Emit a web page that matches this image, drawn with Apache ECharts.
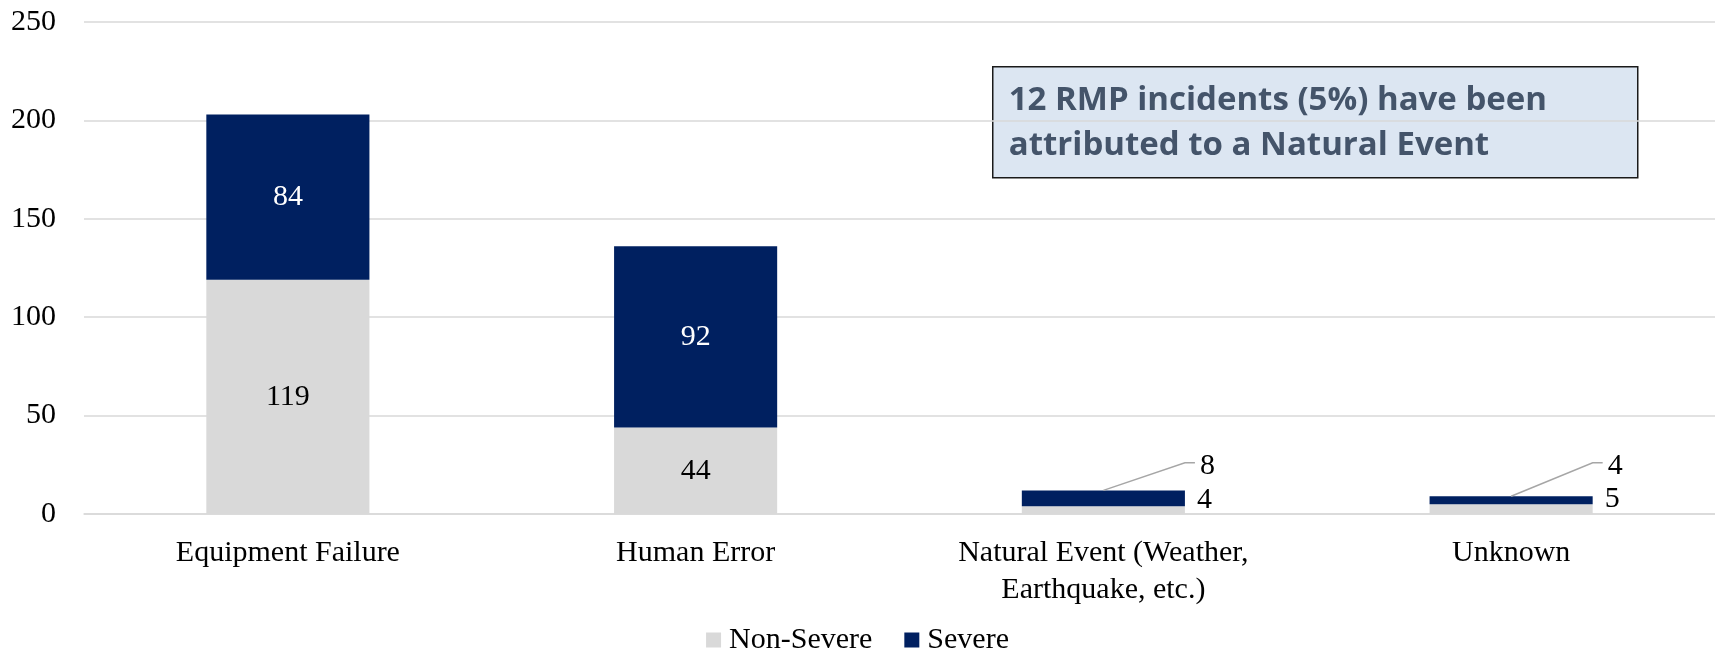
<!DOCTYPE html>
<html>
<head>
<meta charset="utf-8">
<script src="https://cdn.jsdelivr.net/npm/echarts@6/dist/echarts.min.js"></script>
<style>
  html, body { margin: 0; padding: 0; background: #fff; }
  #chart { width: 1715px; height: 654px; }
</style>
</head>
<body>
<div id="chart"></div>
<script>
// data
const categories = ['Equipment Failure', 'Human Error', 'Natural Event (Weather,\nEarthquake, etc.)', 'Unknown'];
const nonSevere = [119, 44, 4, 5];
const severe = [84, 92, 8, 4];
const yTicks = [0, 50, 100, 150, 200, 250];

const serif = '"Liberation Serif", "Times New Roman", serif';
const grey = '#d9d9d9';
const navy = '#002060';
const smallCutoff = 10; // values below this get an outside label
const calloutLevel = 26; // y value where the callout elbow sits

const chart = echarts.init(document.getElementById('chart'));

const nonSevereData = nonSevere.map((v) => {
  if (v >= smallCutoff) return v;
  return {
    value: v,
    label: { position: 'right', distance: 12, offset: [0, -10] },
  };
});

const severeData = severe.map((v) => {
  if (v >= smallCutoff) return v;
  return { value: v, label: { show: false } };
});

// callouts for the thin severe segments
const calloutData = [];
for (let i = 0; i < categories.length; i++) {
  if (severe[i] < smallCutoff) {
    calloutData.push([i, nonSevere[i] + severe[i], severe[i]]);
  }
}

const option = {
  animation: false,
  grid: { left: 84, right: 0, top: 22, bottom: 140 },
  legend: {
    data: ['Non-Severe', 'Severe'],
    top: 620,
    icon: 'rect',
    itemWidth: 15,
    itemHeight: 15,
    itemGap: 32,
    textStyle: { fontFamily: serif, fontSize: 30, color: '#000', padding: [0, 0, 0, 3] },
  },
  xAxis: {
    type: 'category',
    data: categories,
    axisTick: { show: false },
    axisLine: { lineStyle: { color: grey, width: 1.5 } },
    axisLabel: {
      fontFamily: serif,
      fontSize: 30,
      color: '#000',
      margin: 21,
      lineHeight: 37,
      interval: 0,
    },
  },
  yAxis: {
    type: 'value',
    min: yTicks[0],
    max: yTicks[yTicks.length - 1],
    interval: 50,
    axisLine: { show: false },
    axisTick: { show: false },
    splitLine: { lineStyle: { color: grey, width: 1.5 } },
    axisLabel: { fontFamily: serif, fontSize: 30, color: '#000', margin: 28 },
  },
  series: [
    {
      name: 'Non-Severe',
      type: 'bar',
      stack: 'total',
      barWidth: '40%',
      data: nonSevereData,
      itemStyle: { color: grey },
      label: {
        show: true,
        position: 'inside',
        fontFamily: serif,
        fontSize: 30,
        color: '#000',
      },
    },
    {
      name: 'Severe',
      type: 'bar',
      stack: 'total',
      barWidth: '40%',
      data: severeData,
      itemStyle: { color: navy },
      label: {
        show: true,
        position: 'inside',
        fontFamily: serif,
        fontSize: 30,
        color: '#fff',
      },
    },
    {
      name: 'callout',
      type: 'custom',
      z: 5,
      silent: true,
      data: calloutData,
      encode: { x: 0, y: 1 },
      renderItem: function (params, api) {
        const top = api.coord([api.value(0), api.value(1)]);
        const catWidth = api.size([1, 0])[0];
        const x1 = top[0] + catWidth * 0.2;
        const elbowY = api.coord([api.value(0), calloutLevel])[1];
        return {
          type: 'group',
          children: [
            {
              type: 'polyline',
              shape: { points: [[top[0], top[1]], [x1, elbowY], [x1 + 10, elbowY]] },
              style: { stroke: '#a6a6a6', lineWidth: 1.5, fill: null },
            },
            {
              type: 'text',
              style: {
                x: x1 + 15,
                y: elbowY + 3,
                text: String(api.value(2)),
                font: '30px ' + serif,
                fill: '#000',
                verticalAlign: 'middle',
              },
            },
          ],
        };
      },
    },
  ],
  graphic: [
    {
      type: 'group',
      left: 992,
      top: 66,
      children: [
        {
          type: 'rect',
          shape: { x: 0, y: 0, width: 645, height: 111 },
          style: { fill: '#dce6f2', stroke: '#1a1a1a', lineWidth: 1.5 },
        },
        {
          type: 'text',
          left: 16,
          top: 11,
          style: {
            text: '12 RMP incidents (5%) have been\nattributed to a Natural Event',
            font: 'bold 33px "Open Sans", sans-serif',
            lineHeight: 45,
            fill: '#44546a',
          },
        },
      ],
    },
  ],
};

chart.setOption(option);
</script>
</body>
</html>
